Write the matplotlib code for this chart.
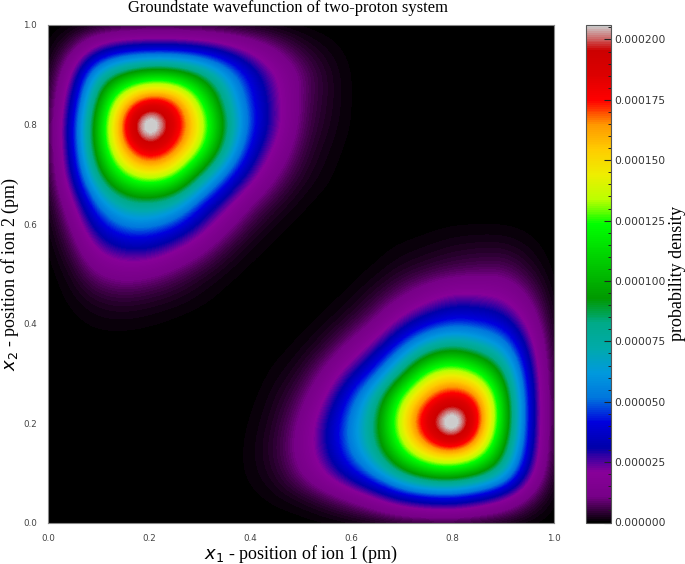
import numpy as np
import matplotlib
matplotlib.use("Agg")
import matplotlib.pyplot as plt
from matplotlib.ticker import MultipleLocator, FormatStrFormatter

TITLE = "Groundstate wavefunction of two-proton system"
XLABEL = "$x_1$ - position of ion 1 (pm)"
YLABEL = "$x_2$ - position of ion 2 (pm)"
CLABEL = "probability density"
UNIT = 1e-6
VMAX = 206e-6
axis_ticks = [0.0, 0.2, 0.4, 0.6, 0.8, 1.0]

# grid of sampled positions
x_grid = [round(i * 0.05, 2) for i in range(21)]

# density (in 1e-6) of the upper-left lobe: rows x2 = 1.00 ... 0.30, columns x1 = 0.00 ... 0.65
lobe = [
    [0,  0,  0,   0,   0,   0,   0,  0,  0,  0,  0, 0, 0, 0],
    [0,  7, 25,  35,  37,  37,  34, 27, 18, 10,  4, 1.5, 0.3, 0],
    [0, 20, 72,  96, 110, 108,  90, 63, 38, 21,  9, 3, 0.5, 0],
    [0, 30, 95, 155, 184, 176, 130, 78, 44, 24,  8, 3, 0.5, 0],
    [0, 38, 108, 180, 238, 190, 148, 90, 46, 25,  7, 2.5, 0.5, 0],
    [0, 36, 105, 165, 194, 172, 135, 78, 38, 18,  5, 1.5, 0.3, 0],
    [0, 30, 86, 130, 148, 135,  86, 50, 26, 10,  3, 1, 0, 0],
    [0, 18, 58,  83,  88,  78,  48, 27, 11,  4,  1, 0.3, 0, 0],
    [0, 10, 38,  54,  55,  46,  28, 13,  4,  1,  0.3, 0, 0, 0],
    [0,  5, 22,  30,  30,  21,  12,  4,  1,  0.3,  0, 0, 0, 0],
    [0,  2, 10,  13,  11,   7,   3,  1,  0.3,  0,  0, 0, 0, 0],
    [0,  1,  3,   4,   3,   2,   1,  0.3,  0,  0,  0, 0, 0, 0],
    [0,  0.3,  1,   1,   0.7,   0.3,   0,  0,  0,  0,  0, 0, 0, 0],
    [0,  0,  0,   0,   0,   0,   0,  0,  0,  0,  0, 0, 0, 0],
    [0,  0,  0,   0,   0,   0,   0,  0,  0,  0,  0, 0, 0, 0],
]

table = np.array(lobe, dtype=float)
density = np.zeros((len(x_grid), len(x_grid)))
# row index 0 is x2 = 0.00; the table starts at x2 = 1.00
density[len(x_grid) - table.shape[0]:, :table.shape[1]] = table[::-1]
# the wavefunction is symmetric under exchange of the two ions
density = (density + density.T) * UNIT

W, H = 685, 564
plt.rcParams["font.family"] = "DejaVu Sans"
plt.rcParams["mathtext.fontset"] = "dejavusans"
fig = plt.figure(figsize=(W / 100, H / 100), dpi=100)
ax = fig.add_axes([48 / W, 1 - 523 / H, (553.5 - 48) / W, (523 - 25) / H])
cax = fig.add_axes([585.5 / W, 1 - 522.5 / H, 25.5 / W, 497.5 / H])

step = x_grid[1] - x_grid[0]
im = ax.imshow(density, origin="lower", cmap="nipy_spectral", vmin=0, vmax=VMAX,
               interpolation="bicubic", aspect="auto",
               extent=(x_grid[0] - step / 2, x_grid[-1] + step / 2,
                       x_grid[0] - step / 2, x_grid[-1] + step / 2))
ax.set_xlim(0, 1)
ax.set_ylim(0, 1)
ax.set_xticks(axis_ticks)
ax.set_yticks(axis_ticks)
ax.tick_params(length=0, labelsize=6.3, labelcolor="#444444", pad=8)
for s in ax.spines.values():
    s.set_color("#888888")
    s.set_linewidth(0.8)

serif = ["Liberation Serif", "DejaVu Serif"]
fig.text(287.5 / W, 1 - 8.5 / H, TITLE, family=serif, fontsize=11.9, ha="center", va="center")
ax.set_xlabel(XLABEL, family=serif, fontsize=13, labelpad=0.5)
ax.set_ylabel(YLABEL, family=serif, fontsize=13, labelpad=1.5)

cb = fig.colorbar(im, cax=cax)
cb.ax.yaxis.set_major_locator(MultipleLocator(25e-6))
cb.ax.yaxis.set_major_formatter(FormatStrFormatter("%.6f"))
cb.ax.yaxis.set_minor_locator(MultipleLocator(5e-6))
cb.ax.tick_params(which="major", direction="in", length=5, width=0.8, color="#222222",
                  labelsize=7.7, labelcolor="#333333", pad=2.5)
cb.ax.tick_params(which="minor", direction="in", length=2.2, width=0.7, color="#222222")
cb.outline.set_edgecolor("#555555")
cb.outline.set_linewidth(0.8)
cb.set_label(CLABEL, family=serif, fontsize=13, labelpad=2.5)

fig.savefig("out.png", dpi=100)
